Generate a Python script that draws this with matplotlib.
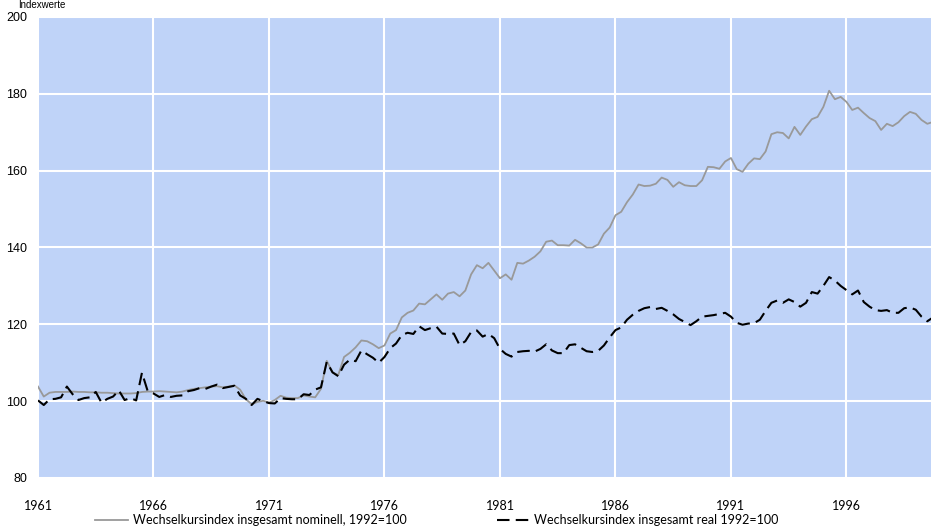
import numpy as np
import matplotlib
matplotlib.use("Agg")
import matplotlib.pyplot as plt

# quarterly values, 1961 Q1 .. 1999 Q4
nominal = [
    103.8, 101.2, 102.2, 102.4,  # 1961
    102.4, 102.4, 102.5, 102.4,  # 1962
    102.4, 102.3, 102.3, 102.2,  # 1963
    102.2, 102.1, 102.0, 102.0,  # 1964
    102.0, 102.1, 102.4, 102.5,  # 1965
    102.5, 102.6, 102.5, 102.4,  # 1966
    102.3, 102.5, 102.9, 103.2,  # 1967
    103.4, 103.6, 103.8, 103.9,  # 1968
    103.6, 103.8, 104.1, 103.0,  # 1969
    100.5, 99.2, 99.8, 100.1,    # 1970
    99.6, 100.3, 101.4, 100.9,   # 1971
    100.8, 100.8, 101.5, 101.2,  # 1972
    101.0, 103.2, 110.5, 107.5,  # 1973
    106.8, 111.5, 112.6, 114.0,  # 1974
    115.8, 115.6, 114.8, 113.8,  # 1975
    114.5, 117.6, 118.5, 121.8,  # 1976
    123.0, 123.6, 125.4, 125.2,  # 1977
    126.5, 127.8, 126.4, 128.0,  # 1978
    128.4, 127.3, 128.8, 133.0,  # 1979
    135.4, 134.6, 136.0, 134.0,  # 1980
    132.0, 133.0, 131.6, 136.0,  # 1981
    135.8, 136.6, 137.6, 139.0,  # 1982
    141.5, 141.8, 140.6, 140.6,  # 1983
    140.5, 142.0, 141.1, 140.0,  # 1984
    140.0, 140.8, 143.6, 145.2,  # 1985
    148.4, 149.3, 151.8, 153.8,  # 1986
    156.4, 156.0, 156.1, 156.6,  # 1987
    158.2, 157.6, 155.8, 157.0,  # 1988
    156.2, 156.0, 156.0, 157.5,  # 1989
    161.0, 160.9, 160.5, 162.4,  # 1990
    163.3, 160.4, 159.7, 161.8,  # 1991
    163.2, 163.0, 165.0, 169.5,  # 1992
    170.0, 169.8, 168.4, 171.4,  # 1993
    169.3, 171.5, 173.4, 174.0,  # 1994
    176.6, 180.8, 178.6, 179.2,  # 1995
    177.9, 175.8, 176.4, 175.0,  # 1996
    173.7, 172.9, 170.6, 172.2,  # 1997
    171.6, 172.6, 174.2, 175.3,  # 1998
    174.8, 173.2, 172.2, 172.7,  # 1999
]

real = [
    100.2, 99.0, 100.5, 100.6,   # 1961
    101.0, 103.8, 101.8, 100.3,  # 1962
    100.8, 101.0, 102.4, 99.6,   # 1963
    100.6, 101.2, 102.8, 100.3,  # 1964
    100.8, 100.2, 107.4, 102.6,  # 1965
    102.0, 101.1, 101.6, 101.1,  # 1966
    101.4, 101.5, 102.6, 102.9,  # 1967
    103.4, 103.2, 103.8, 104.3,  # 1968
    103.4, 103.7, 104.0, 101.5,  # 1969
    100.6, 99.0, 100.6, 100.0,   # 1970
    99.5, 99.4, 100.8, 100.6,    # 1971
    100.5, 100.5, 101.8, 101.6,  # 1972
    103.0, 103.6, 110.2, 107.5,  # 1973
    106.5, 109.5, 110.8, 110.4,  # 1974
    113.2, 112.2, 111.3, 110.0,  # 1975
    111.5, 113.8, 115.0, 117.2,  # 1976
    117.8, 117.5, 119.5, 118.5,  # 1977
    119.0, 119.4, 117.6, 117.5,  # 1978
    117.6, 114.6, 115.6, 118.0,  # 1979
    118.4, 116.8, 117.5, 116.4,  # 1980
    113.6, 112.3, 111.6, 112.8,  # 1981
    113.0, 113.1, 112.9, 113.6,  # 1982
    114.8, 113.2, 112.5, 112.5,  # 1983
    114.6, 114.8, 113.9, 113.0,  # 1984
    112.8, 113.1, 114.5, 116.6,  # 1985
    118.5, 119.2, 121.2, 122.5,  # 1986
    123.5, 124.2, 124.5, 124.0,  # 1987
    124.3, 123.5, 122.6, 121.4,  # 1988
    120.6, 119.8, 120.8, 122.0,  # 1989
    122.2, 122.4, 122.7, 123.0,  # 1990
    122.0, 120.4, 119.9, 120.2,  # 1991
    120.3, 121.2, 123.5, 125.6,  # 1992
    126.2, 125.6, 126.5, 125.8,  # 1993
    124.6, 125.6, 128.4, 128.0,  # 1994
    130.0, 132.3, 131.4, 130.0,  # 1995
    128.9, 127.8, 128.8, 125.8,  # 1996
    124.6, 123.7, 123.5, 123.7,  # 1997
    123.0, 123.0, 124.2, 124.4,  # 1998
    123.8, 122.0, 120.8, 121.8,  # 1999
]

t = 1961 + np.arange(len(nominal)) / 4.0
xticks = [1961, 1966, 1971, 1976, 1981, 1986, 1991, 1996]
yticks = [80, 100, 120, 140, 160, 180, 200]

fig = plt.figure(figsize=(9.31, 5.27), dpi=100)
ax = fig.add_axes([38 / 931, 49 / 527, 1 - 38 / 931, 461 / 527])
ax.set_facecolor("#bfd3f8")

ax.plot(t, nominal, color="#999999", lw=1.3,
        label="Wechselkursindex insgesamt nominell, 1992=100")
ax.plot(t, real, color="black", lw=1.5, dashes=(6, 3),
        label="Wechselkursindex insgesamt real 1992=100")

ax.set_xlim(1961, 1999.66)
ax.set_ylim(80, 200)
ax.set_xticks(xticks)
ax.set_xticklabels([str(x) for x in xticks], family="Lato", fontsize=9)
ax.set_yticks(yticks)
ax.set_yticklabels([str(y) for y in yticks], family="Liberation Sans", fontsize=9)
ax.tick_params(axis="x", length=0, pad=16)
ax.tick_params(axis="y", length=0, pad=8)
ax.grid(True, color="white", lw=1.5)
ax.set_axisbelow(True)
for s in ax.spines.values():
    s.set_visible(False)

fig.text(18 / 931, 1.0, "Indexwerte", fontsize=7, family="Liberation Sans",
         va="top", ha="left")

fig.legend(loc="lower left", bbox_to_anchor=(84 / 931, -0.02), ncol=2,
           frameon=False, handlelength=2.6, handletextpad=0.4, columnspacing=7.2,
           prop={"family": "Lato", "size": 9})

plt.savefig("out.png", dpi=100)
